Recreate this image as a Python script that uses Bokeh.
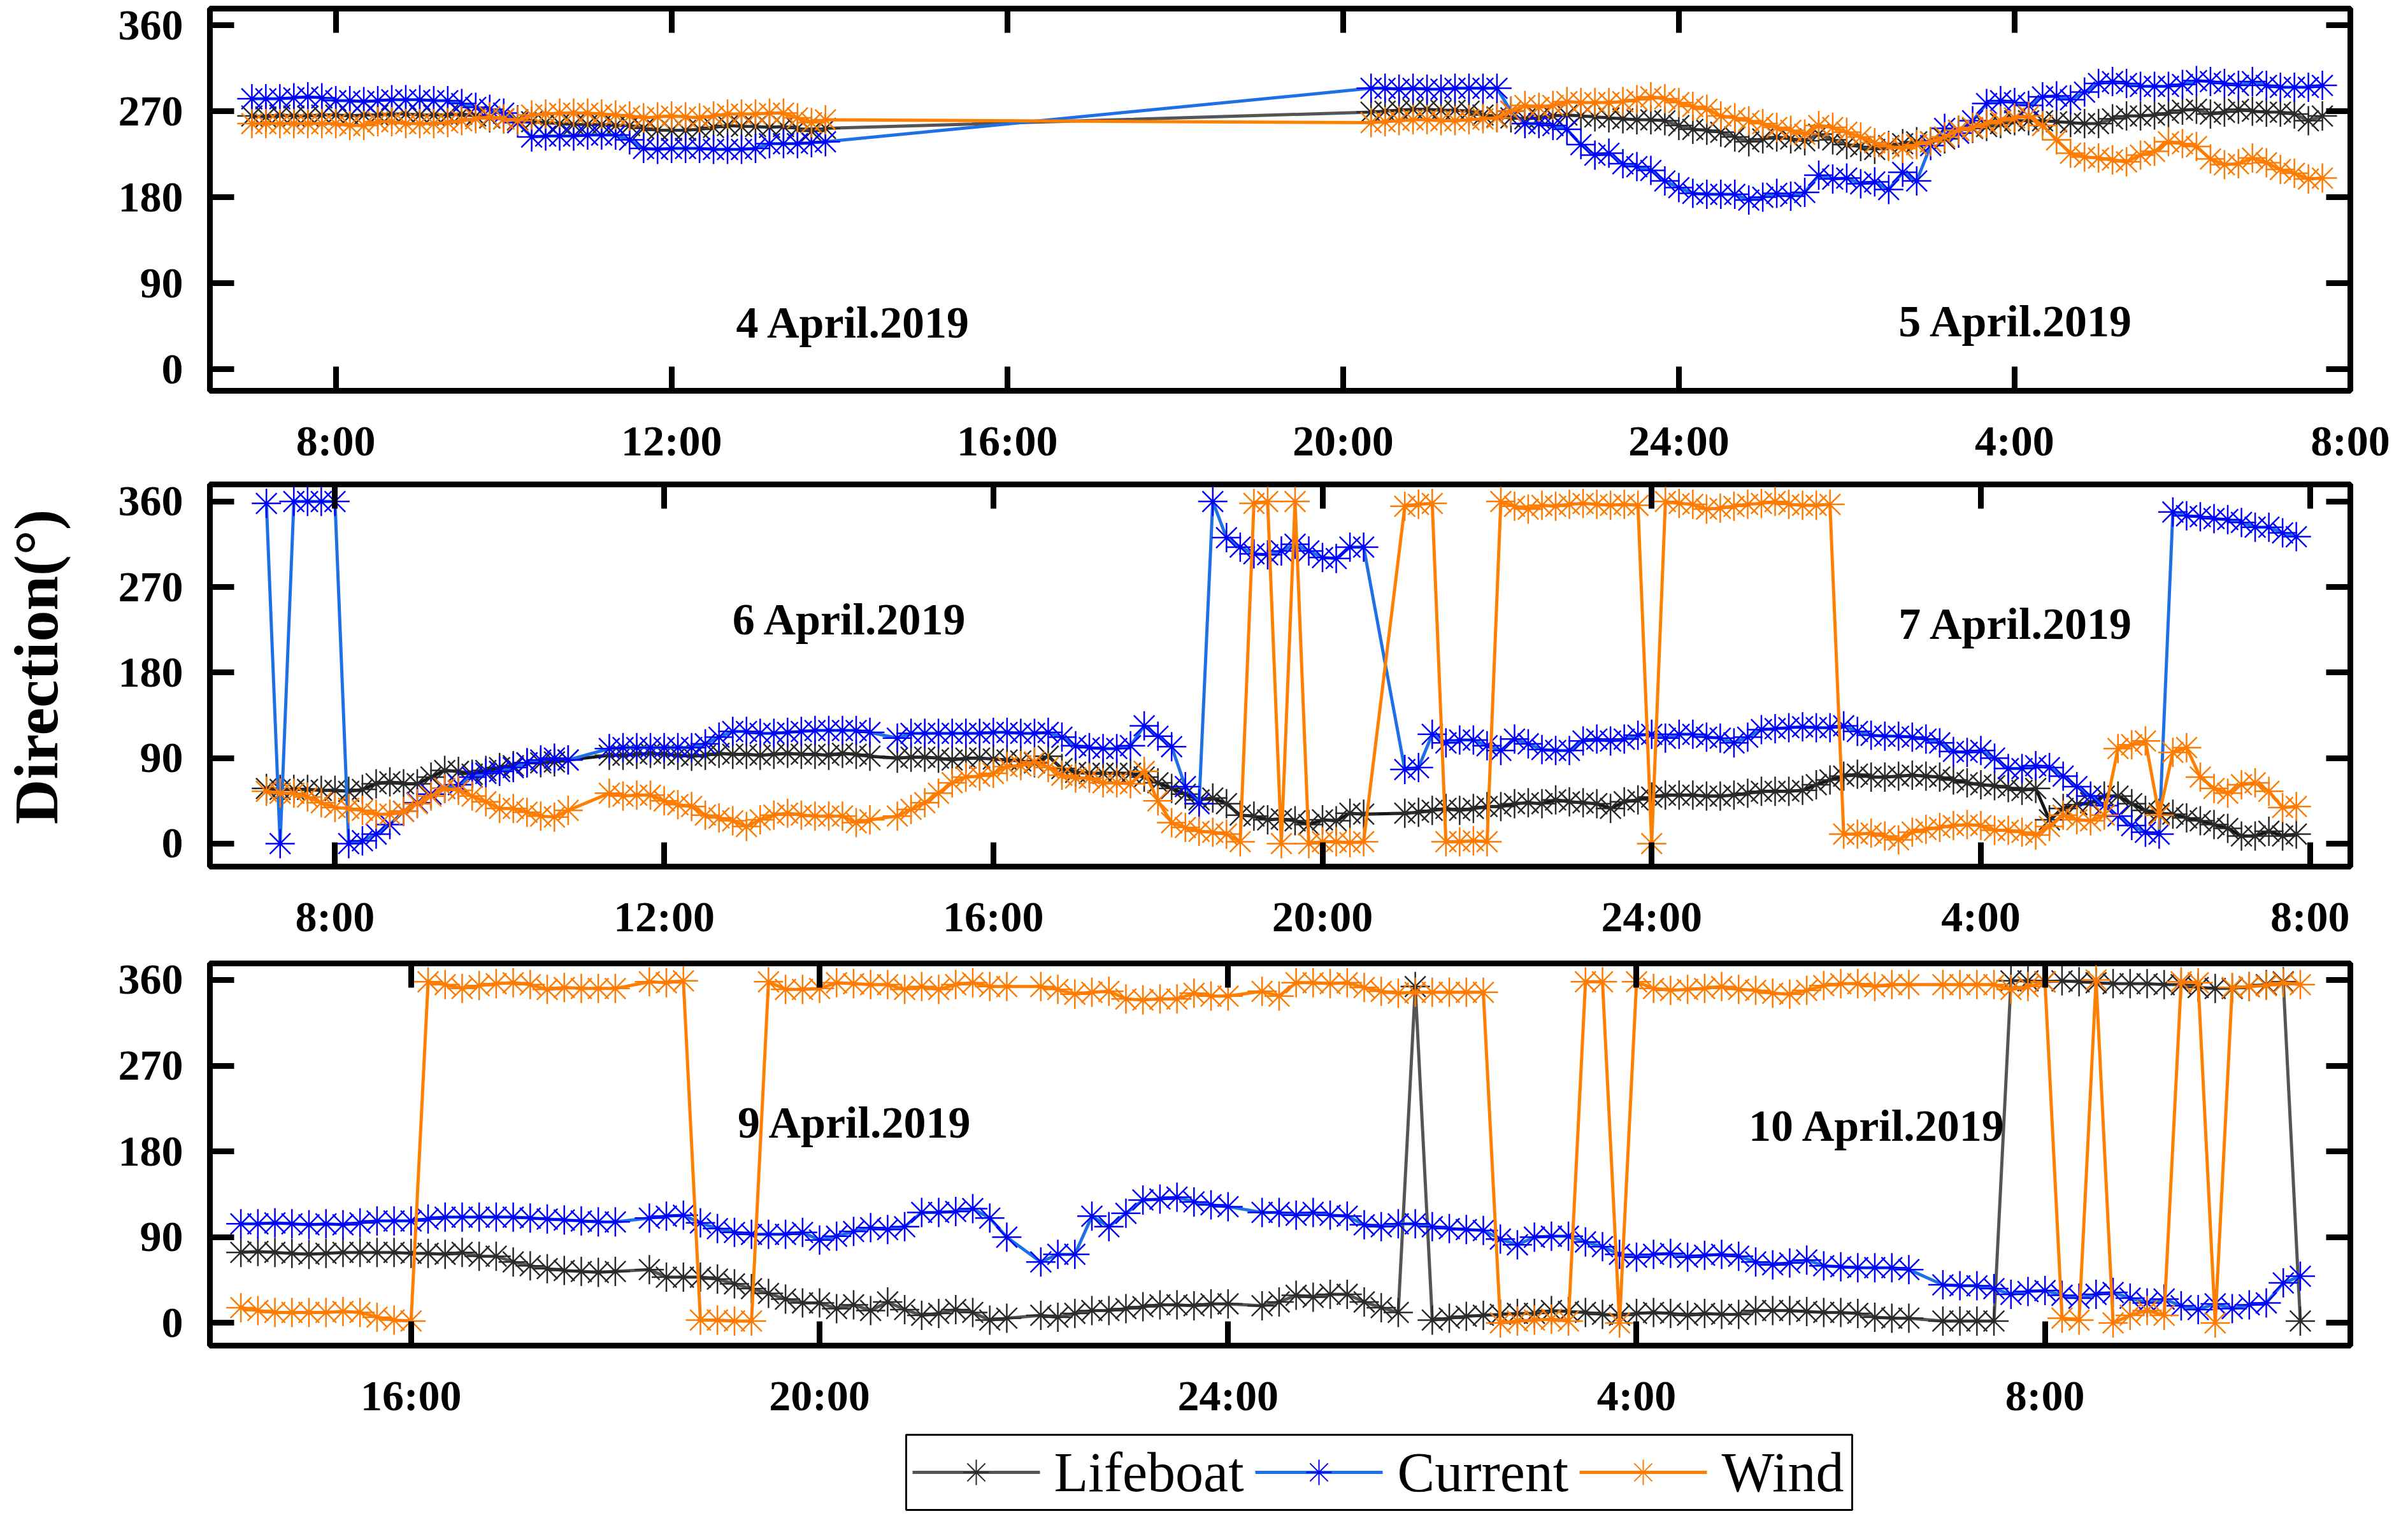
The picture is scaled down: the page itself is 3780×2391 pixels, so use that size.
import numpy as np
from bokeh.plotting import figure
from bokeh.models import (ColumnDataSource, FixedTicker, LinearAxis, Range1d, Label, GridBox)
from bokeh.embed import file_html
from bokeh.resources import INLINE
from bokeh.core.properties import value

# ---------------- data (directions in degrees, sampled every 10 minutes) ----------------
SERIES = ["Lifeboat", "Current", "Wind"]

# Panel 1: 4-5 April 2019, two recorded segments
P1A_START, P1A_N = 7.0, 42          # 7:00 -> 13:50
P1B_START, P1B_N = 20 + 1 / 3, 69   # 20:20 -> 07:40 (next day, hour 31.67)
p1_life = [265,264,266,265,265,266,266,265,266,266, 267,267,266,266,266,267,265,263,262,261,
           259,258,257,256,256,256,255,255,252,250, 250,250,251,253,255,254,254,253,254,252,
           249,252,
           269,270,271,272,272,271,271,270,266,264, 263,262,263,265,266,265,264,263,262,261,
           261,260,255,251,250,248,243,238,241,243, 241,239,246,240,235,233,230,234,236,238,
           238,241,250,252,254,257,260,260,260,259, 258,257,257,262,265,265,266,268,271,272,
           267,269,272,270,269,269,267,260,265]
p1_curr = [283,283,283,284,285,284,281,281,280,281, 282,282,282,281,281,278,274,272,268,258,
           243,244,244,244,245,245,245,240,231,230, 231,231,231,230,230,230,231,236,236,236,
           237,238,
           294,294,293,294,293,293,294,294,294,294, 270,257,257,255,251,235,224,226,215,212,
           208,197,190,184,183,183,183,177,180,184, 181,185,203,199,200,194,196,188,206,197,
           234,252,247,260,278,281,279,276,285,286, 282,290,299,301,299,296,296,296,298,302,
           301,299,297,301,297,295,295,295,297]
p1_wind = [257,257,257,257,257,257,257,255,255,259, 259,257,257,257,258,260,262,264,262,260,
           266,267,268,268,268,267,266,265,263,264, 265,264,263,265,267,267,267,268,268,263,
           258,261,
           258,259,260,261,261,260,260,261,262,263, 270,276,274,276,280,279,279,279,280,282,
           285,283,279,275,272,265,263,260,257,253, 250,246,255,253,248,243,237,233,231,235,
           238,243,250,253,257,260,263,265,255,240, 226,222,221,219,217,224,228,238,236,233,
           220,214,215,221,216,209,205,199,200]

# Panel 2: 6-7 April 2019 (7:10 -> 07:50 next day)
P2_START, P2_N = 7 + 1 / 6, 149
N = None
p2_life = [58,57,57,57,56,56,55,57,63,65, 63,63,70,77,76,73,77,80,82,85,
           85,86,88,N,N,93,93,94,95,94, 93,92,93,95,94,94,93,94,95,94,
           94,93,95,94,92,N,90,91,91,90, 88,90,90,89,88,87,85,92,79,75,
           74,74,74,74,70,64,58,52,46,48, 42,30,29,25,26,24,20,25,24,32,
           31,N,N,32,33,35,37,35,37,39, 39,42,43,42,46,44,43,42,37,44,
           46,49,51,51,51,50,50,51,53,55, 55,55,56,62,67,71,73,70,70,71,
           72,71,70,67,64,62,61,59,56,58, 25,37,41,43,50,50,42,35,32,31,
           27,24,20,16,8,8,13,8,10]
p2_curr = [358,0,360,360,360,360,0,3,10,20, 34,43,52,58,62,70,74,76,80,85,
           88,90,88,N,N,100,101,101,101,101, 101,101,105,112,118,118,116,116,117,118,
           119,119,119,119,117,N,111,116,116,116, 116,116,116,117,117,116,116,117,112,103,
           101,100,100,103,124,113,102,60,42,360, 322,312,305,304,308,315,308,301,300,312,
           312,N,N,78,80,115,106,109,109,103, 98,110,105,99,98,98,108,110,108,110,
           114,115,111,115,115,112,111,106,112,120, 121,122,123,122,122,124,118,114,113,113,
           112,110,106,97,96,98,90,79,79,82, 80,71,60,50,40,29,19,12,10,349,
           345,344,342,341,338,333,333,327,323]
p2_wind = [55,53,53,49,43,38,37,35,31,31, 34,42,50,58,56,50,44,37,37,33,
           29,28,35,N,N,53,50,51,51,45, 41,39,30,27,24,18,25,30,32,30,
           29,29,29,22,25,N,29,36,43,53, 64,70,71,74,81,82,86,80,72,69,
           69,64,64,63,76,45,22,17,13,12, 10,2,358,360,0,360,0,2,2,1,
           2,N,N,355,357,358,2,2,3,2, 360,355,352,356,355,357,358,357,356,357,
           356,0,360,358,357,352,353,355,357,358, 360,357,356,356,357,10,10,11,8,4,
           12,15,17,19,20,19,14,14,12,9, 18,30,25,24,30,100,104,108,30,96,
           101,70,58,53,62,64,55,38,39]

# Panel 3: 9-10 April 2019 (14:20 -> 10:30 next day)
P3_START, P3_N = 14 + 1 / 3, 122
p3_life = [74,75,74,73,72,73,74,74,74,74, 73,73,72,74,70,70,64,60,57,55,
           54,53,54,N,56,48,48,48,46,41, 36,31,25,21,21,15,19,13,22,14,
           8,10,14,11,3,5,N,8,6,10, 13,13,15,17,19,19,18,20,20,N,
           18,22,29,27,30,30,22,16,11,353, 3,5,7,8,9,10,10,13,12,11,
           9,8,10,11,10,8,10,9,9,13, 13,13,12,11,11,10,6,5,5,N,
           2,2,2,2,359,359,358,359,358,357, 356,356,356,355,355,352,351,351,353,355,
           358,2]
p3_curr = [104,104,105,104,103,104,103,105,107,107, 107,109,111,111,111,111,111,110,109,108,
           107,106,106,N,110,112,113,105,99,95, 93,93,93,95,87,91,96,100,98,101,
           116,116,117,120,110,90,N,64,72,72, 112,101,115,129,130,132,127,124,122,N,
           116,116,113,116,113,112,103,101,104,104, 101,99,98,97,88,82,90,91,91,85,
           80,72,69,72,73,69,71,72,70,64, 61,63,66,60,59,58,58,58,56,N,
           40,39,39,36,30,33,34,29,26,30, 32,26,21,25,18,14,20,15,19,21,
           42,49]
p3_wind = [16,13,11,11,11,11,12,11,6,3, 2,358,355,351,354,356,357,355,350,352,
           351,351,351,N,358,357,359,3,3,2, 2,358,350,350,351,357,356,355,355,350,
           353,350,355,357,353,353,N,353,350,345, 347,348,340,339,340,340,346,343,343,N,
           348,343,357,357,356,357,352,348,346,347, 347,347,347,347,0,2,3,4,2,358,
           358,0,358,351,349,350,351,353,350,349, 346,345,349,354,356,356,353,355,355,N,
           355,355,355,355,350,353,358,5,3,360, 0,8,13,8,358,357,0,352,353,354,
           357,355]

# tick labels (hours counted from midnight of the first day of each panel)
P12_TICKS = [8, 12, 16, 20, 24, 28, 32]
P12_TICK_LABELS = ["8:00", "12:00", "16:00", "20:00", "24:00", "4:00", "8:00"]
P3_TICKS = [16, 20, 24, 28, 32]
P3_TICK_LABELS = ["16:00", "20:00", "24:00", "4:00", "8:00"]
Y_TICKS = [0, 90, 180, 270, 360]
Y_TITLE = "Direction(°)"

# date annotations: (hour, degree, text)
P1_DATES = [(14.17, 49, "4 April.2019"), (28.02, 50, "5 April.2019")]
P2_DATES = [(14.26, 236, "6 April.2019"), (28.43, 231, "7 April.2019")]
P3_DATES = [(20.35, 210, "9 April.2019"), (30.36, 207, "10 April.2019")]

# ---------------- styling / layout ----------------
FONT = "Liberation Serif"
LINE_COLORS = {"Lifeboat": "#555555", "Current": "#1f6fe5", "Wind": "#ff8000"}
MARKER_COLORS = {"Lifeboat": "#2a2a2a", "Current": "#0000ff", "Wind": "#ff7a00"}
FRAME_W = 9
TICK_LEN = 38
FRAME_H = 600
TITLE_W = 140
PANEL_W = 3764 - TITLE_W
BORDER_L = 329 - TITLE_W
BORDER_R = 75
FRAME_PX_W = PANEL_W - BORDER_L - BORDER_R


def times(start, n):
    return [start + i / 6 for i in range(n)]


def clean(t, v):
    xs, ys = [], []
    for ti, vi in zip(t, v):
        if vi is not None:
            xs.append(ti)
            ys.append(vi)
    return xs, ys


def style_axis(ax, ticks, overrides=None, labels=True, standoff=40):
    ax.ticker = FixedTicker(ticks=ticks)
    ax.major_tick_in = TICK_LEN
    ax.major_tick_out = 0
    ax.major_tick_line_width = FRAME_W
    ax.major_tick_line_color = "black"
    ax.minor_tick_line_color = None
    ax.axis_line_color = None
    ax.major_label_text_font = FONT
    ax.major_label_text_font_style = "bold"
    if labels:
        ax.major_label_text_color = "black"
        ax.major_label_text_font_size = "68px"
        ax.major_label_standoff = standoff
    else:
        ax.major_label_text_color = None
        ax.major_label_text_font_size = "1px"
        ax.major_label_standoff = 0
    if overrides:
        ax.major_label_overrides = overrides


def make_panel(top, bottom, xr, yr, t, data, ticks, tick_labels, dates,
               life_color="#555555"):
    p = figure(width=PANEL_W, height=top + FRAME_H + bottom,
               x_range=Range1d(*xr), y_range=Range1d(*yr),
               output_backend="svg", toolbar_location=None,
               min_border_left=BORDER_L, min_border_right=BORDER_R,
               min_border_top=top, min_border_bottom=bottom,
               background_fill_color="white", border_fill_color="white")
    p.grid.visible = False
    p.outline_line_color = "black"
    p.outline_line_width = FRAME_W

    overrides = {tk: lb for tk, lb in zip(ticks, tick_labels)}
    style_axis(p.xaxis[0], ticks, overrides, True, 40)
    style_axis(p.yaxis[0], Y_TICKS, None, True, 42)
    top_ax = LinearAxis()
    style_axis(top_ax, ticks, None, False)
    p.add_layout(top_ax, "above")
    right_ax = LinearAxis()
    style_axis(right_ax, Y_TICKS, None, False)
    p.add_layout(right_ax, "right")

    for name in SERIES:
        xs, ys = clean(t, data[name])
        src = ColumnDataSource(dict(x=xs, y=ys))
        lc = life_color if name == "Lifeboat" else LINE_COLORS[name]
        p.line("x", "y", source=src, line_color=lc, line_width=5)
        p.scatter("x", "y", source=src, marker="asterisk", size=46,
                  angle=np.pi / 2, line_color=MARKER_COLORS[name], line_width=2.5)

    for (hx, vy, txt) in dates:
        p.add_layout(Label(x=hx, y=vy, text=txt, text_font=FONT, text_font_style="bold",
                           text_font_size="70px", text_color="black",
                           text_align="center", text_baseline="middle"))
    return p


t1 = times(P1A_START, P1A_N) + times(P1B_START, P1B_N)
t2 = times(P2_START, P2_N)
t3 = times(P3_START, P3_N)

P2_YR = (-24.2, 378.0)
f1 = make_panel(13, 130, (6.5, 32.0), (-22.6, 377.4), t1,
                {"Lifeboat": p1_life, "Current": p1_curr, "Wind": p1_wind},
                P12_TICKS, P12_TICK_LABELS, P1_DATES)
f2 = make_panel(17, 130, (6.48, 32.49), P2_YR, t2,
                {"Lifeboat": p2_life, "Current": p2_curr, "Wind": p2_wind},
                P12_TICKS, P12_TICK_LABELS, P2_DATES, life_color="#151515")
f3 = make_panel(22, 130, (14.03, 34.99), (-23.8, 377.3), t3,
                {"Lifeboat": p3_life, "Current": p3_curr, "Wind": p3_wind},
                P3_TICKS, P3_TICK_LABELS, P3_DATES)

# ---------------- legend strip (pixel units across the panel frame width) ----------------
LEG_H = 131
LEG_BOX = (1093, 2578, 3, 121)              # left, right, bottom, top
LEG_GLYPH_X0 = [1103, 1641, 2150]           # start of each legend glyph line
LEG_GLYPH_W = 200
LEG_TEXT_X = [1325, 1864, 2373]
LEG_Y = 62

fl = figure(width=PANEL_W, height=LEG_H, x_range=Range1d(0, FRAME_PX_W),
            y_range=Range1d(0, LEG_H), output_backend="svg", toolbar_location=None,
            min_border_left=BORDER_L, min_border_right=BORDER_R,
            min_border_top=0, min_border_bottom=0,
            background_fill_color="white", border_fill_color="white")
fl.axis.visible = False
fl.grid.visible = False
fl.outline_line_color = None
fl.quad(left=[LEG_BOX[0]], right=[LEG_BOX[1]], bottom=[LEG_BOX[2]], top=[LEG_BOX[3]],
        fill_color="white", line_color="black", line_width=3)
for i, name in enumerate(SERIES):
    x0 = LEG_GLYPH_X0[i]
    fl.segment(x0=[x0], y0=[LEG_Y], x1=[x0 + LEG_GLYPH_W], y1=[LEG_Y],
               line_color=LINE_COLORS[name], line_width=5)
    fl.scatter(x=[x0 + LEG_GLYPH_W / 2], y=[LEG_Y], marker="asterisk", size=40,
               angle=0, line_color=MARKER_COLORS[name], line_width=2)
    fl.text(x=[LEG_TEXT_X[i]], y=[LEG_Y], text=[name], text_font=value(FONT),
            text_font_size="88px", text_color="black", text_align="left",
            text_baseline="middle")

# ---------------- y title strip, same frame rows as the middle panel ----------------
TITLE_X = 56
TITLE_Y = 186
ft = figure(width=TITLE_W, height=f2.height, x_range=Range1d(0, TITLE_W),
            y_range=Range1d(*P2_YR), output_backend="svg", toolbar_location=None,
            min_border_left=0, min_border_right=0, min_border_top=17, min_border_bottom=130,
            background_fill_color="white", border_fill_color="white")
ft.axis.visible = False
ft.grid.visible = False
ft.outline_line_color = None
ft.text(x=[TITLE_X], y=[TITLE_Y], text=[Y_TITLE], angle=np.pi / 2, text_font=value(FONT),
        text_font_style="bold", text_font_size="98px", text_color="black",
        text_align="center", text_baseline="middle")

grid = GridBox(children=[(f1, 0, 1), (f2, 1, 1), (f3, 2, 1), (fl, 3, 1), (ft, 1, 0)],
               spacing=0)
open("out.html", "w").write(file_html(grid, INLINE))
